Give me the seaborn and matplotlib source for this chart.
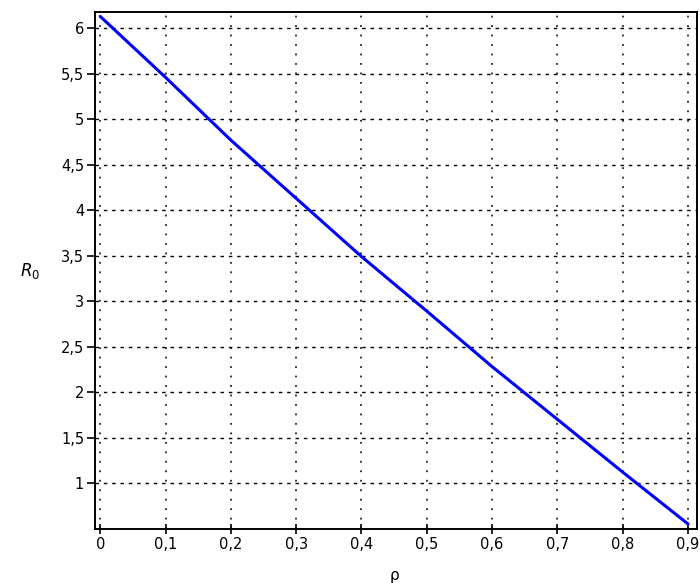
import numpy as np
import pandas as pd
import seaborn as sns
import matplotlib as mpl
from matplotlib import pyplot as plt
from matplotlib.ticker import FuncFormatter

# values
rho = [0.0, 0.1, 0.2, 0.3, 0.4, 0.5, 0.6, 0.7, 0.8, 0.9]
r0 = [6.13, 5.46, 4.77, 4.13, 3.49, 2.89, 2.28, 1.70, 1.12, 0.55]
x_ticks = [0.0, 0.1, 0.2, 0.3, 0.4, 0.5, 0.6, 0.7, 0.8, 0.9]
y_ticks = [1.0, 1.5, 2.0, 2.5, 3.0, 3.5, 4.0, 4.5, 5.0, 5.5, 6.0]

df = pd.DataFrame({"rho": rho, "R0": r0})

sns.set_style("white")
plt.rcParams["font.family"] = ["DejaVu Sans"]

fig = plt.figure(figsize=(7.0, 5.83), dpi=100)
ax = fig.add_axes([0.136, 0.0926, 0.86, 0.8864])

sns.lineplot(df, x="rho", y="R0", color="#0000ff", linewidth=2.2, ax=ax)

ax.set_xlim(-0.0077, 0.914)
ax.set_ylim(0.495, 6.176)
ax.set_xticks(x_ticks)
ax.set_yticks(y_ticks)

# comma decimal separator
comma = FuncFormatter(lambda v, pos: f"{v:g}".replace(".", ","))
ax.xaxis.set_major_formatter(comma)
ax.yaxis.set_major_formatter(comma)

# dotted grid: vertical dots, horizontal short dashes
for xv in x_ticks:
    ax.axvline(xv, color="black", linewidth=1.1, linestyle=(0, (1.2, 5.0)), zorder=0)
for yv in y_ticks:
    ax.axhline(yv, color="black", linewidth=1.0, linestyle=(0, (2.5, 3.5)), zorder=0)

for side in ["left", "right", "top", "bottom"]:
    ax.spines[side].set_visible(True)
    ax.spines[side].set_color("black")
    ax.spines[side].set_linewidth(1.4)

ax.tick_params(axis="y", which="major", direction="out", length=6, width=1.2,
               color="black", labelcolor="black", labelsize=10.5, pad=2,
               left=True, right=False)
ax.tick_params(axis="x", which="major", direction="inout", length=7, width=1.2,
               color="black", labelcolor="black", labelsize=10.5, pad=2,
               bottom=True, top=False)

ax.set_xlabel("ρ", fontsize=11, color="black")
ax.set_ylabel("")
ax.xaxis.set_label_coords(0.498, -0.075)
fig.text(0.043, 0.535, r"$R_0$", fontsize=12, color="black", ha="center", va="center")

plt.savefig("out.png", dpi=100)
